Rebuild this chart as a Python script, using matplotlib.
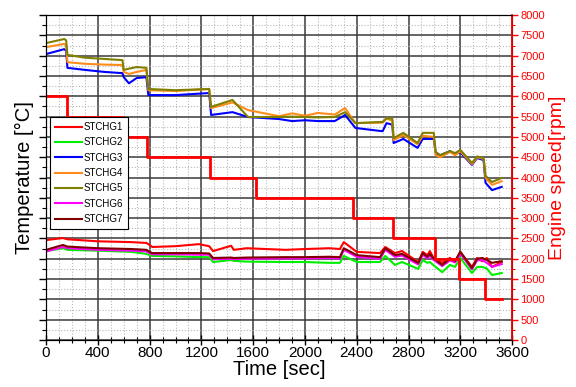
import numpy as np
import matplotlib
matplotlib.use("Agg")
import matplotlib.pyplot as plt
from matplotlib.ticker import MultipleLocator, NullFormatter

plt.rcParams['font.family'] = ['Liberation Sans', 'DejaVu Sans']

# engine speed steps [rpm]
speed_t = [0, 162, 595, 780, 1267, 1622, 2372, 2681, 3005, 3190, 3391, 3523]
speed = [6000, 5500, 5000, 4500, 4000, 3500, 3000, 2500, 2000, 1500, 1000, 1000]

# high temperature group (STCHG3, 4, 5)
t_hi = [0, 140, 155, 165, 300, 450, 590, 600, 640, 700, 775, 790, 1000, 1260, 1275,
        1440, 1560, 1800, 1900, 2000, 2100, 2230, 2310, 2390, 2600, 2630, 2675, 2685,
        2760, 2870, 2910, 2995, 3010, 3045, 3120, 3160, 3200, 3290, 3330, 3380, 3395,
        3445, 3520]
stchg3 = [704, 716, 712, 670, 665, 660, 657, 647, 632, 645, 647, 603, 603, 608, 554,
          561, 549, 544, 539, 541, 539, 539, 554, 522, 514, 534, 530, 485,
          495, 473, 495, 495, 460, 455, 465, 458, 462, 431, 448, 443, 387,
          369, 377]
stchg4 = [721, 729, 725, 684, 680, 678, 677, 660, 655, 660, 665, 615, 613, 618, 571,
          585, 566, 551, 558, 552, 559, 555, 571, 534, 535, 545, 540, 492,
          505, 482, 503, 500, 455, 450, 463, 455, 465, 433, 450, 446, 399,
          382, 391]
stchg5 = [731, 741, 738, 702, 695, 692, 689, 665, 668, 672, 670, 618, 615, 618, 574,
          591, 549, 549, 550, 549, 548, 549, 561, 534, 537, 546, 545, 497,
          510, 485, 510, 510, 463, 455, 465, 460, 468, 436, 452, 448, 404,
          389, 399]

# low temperature group (STCHG1, 2, 6, 7)
t_lo = [0, 130, 165, 400, 660, 775, 800, 820, 1000, 1180, 1260, 1290, 1430, 1450,
        1550, 1850, 2000, 2190, 2270, 2300, 2400, 2580, 2620, 2695, 2750, 2875, 2910,
        2945, 2965, 2990, 3060, 3120, 3160, 3200, 3290, 3330, 3370, 3405, 3445, 3520]
stchg1 = [246, 251, 248, 243, 241, 239, 234, 229, 231, 236, 231, 219, 232, 222,
          226, 222, 224, 226, 224, 241, 217, 214, 229, 214, 219, 192, 217,
          209, 219, 204, 190, 202, 192, 217, 180, 202, 194, 202, 180, 192]
stchg7 = [222, 234, 230, 226, 224, 222, 217, 214, 214, 214, 213, 202, 203, 202,
          203, 204, 204, 205, 204, 226, 209, 204, 226, 209, 212, 190, 214,
          205, 212, 202, 185, 200, 195, 217, 177, 200, 202, 197, 190, 194]
stchg6 = [218, 229, 226, 222, 220, 218, 214, 211, 211, 210, 210, 199, 200, 199,
          200, 201, 201, 202, 200, 222, 205, 200, 222, 205, 208, 186, 210,
          201, 208, 198, 182, 196, 191, 213, 174, 196, 197, 190, 180, 187]
stchg2 = [219, 226, 222, 220, 217, 212, 209, 207, 206, 204, 204, 192, 197, 195,
          193, 192, 192, 190, 190, 207, 192, 192, 207, 185, 192, 175, 197,
          190, 192, 185, 167, 185, 180, 202, 165, 180, 180, 176, 160, 165]

fig = plt.figure(figsize=(5.76, 3.87), dpi=100)
ax = fig.add_axes([0.080, 0.1214, 0.809, 0.8397])
ax2 = ax.twinx()

# grid on the temperature axis
ax.set_axisbelow(True)
ax.grid(which='minor', color='#b8b8b8', linestyle=':', linewidth=0.8)
ax.grid(which='major', color='#3a3a3a', linestyle='-', linewidth=1.1)

lw = 1.5
l1, = ax.plot(t_lo, stchg1, color='#ff0000', lw=lw, label='STCHG1')
l2, = ax.plot(t_lo, stchg2, color='#00ee00', lw=lw, label='STCHG2')
l3, = ax.plot(t_hi, stchg3, color='#0000ff', lw=lw, label='STCHG3')
l4, = ax.plot(t_hi, stchg4, color='#ff8c1a', lw=lw, label='STCHG4')
l5, = ax.plot(t_hi, stchg5, color='#808000', lw=lw, label='STCHG5')
l6, = ax.plot(t_lo, stchg6, color='#ff00ff', lw=lw, label='STCHG6')
l7, = ax.plot(t_lo, stchg7, color='#800000', lw=lw, label='STCHG7')

ax2.plot(speed_t, speed, color='#ff0000', lw=2.0, drawstyle='steps-post')

ax.set_xlim(0, 3600)
ax.set_ylim(0, 800)
ax2.set_ylim(0, 8000)

ax.xaxis.set_major_locator(MultipleLocator(400))
ax.xaxis.set_minor_locator(MultipleLocator(100))
ax.yaxis.set_major_locator(MultipleLocator(50))
ax.yaxis.set_minor_locator(MultipleLocator(25))
ax.yaxis.set_major_formatter(NullFormatter())
ax.tick_params(axis='x', which='major', direction='inout', length=7, width=1, labelsize=11, pad=1)
ax.tick_params(axis='x', which='minor', direction='inout', length=4, width=0.8)
ax.tick_params(axis='y', which='major', direction='out', length=5, width=1, right=False)
ax.tick_params(axis='y', which='minor', direction='out', length=3, width=0.8, right=False)

ax2.yaxis.set_major_locator(MultipleLocator(500))
ax2.yaxis.set_minor_locator(MultipleLocator(250))
ax2.tick_params(axis='y', which='major', direction='out', length=4, width=1,
                colors='#ff0000', labelsize=8, pad=2)
ax2.tick_params(axis='y', which='minor', direction='out', length=2.5, width=0.8, colors='#ff0000')
ax2.spines['right'].set_color('#ff0000')
ax2.spines['right'].set_linewidth(1.2)

ax.set_xlabel('Time [sec]', fontsize=14.5, labelpad=0)
ax.set_ylabel('Temperature [°C]', fontsize=14.5, labelpad=0)
ax2.set_ylabel('Engine speed[rpm]', fontsize=14, color='#ff0000', labelpad=3)

leg = ax2.legend(handles=[l1, l2, l3, l4, l5, l6, l7], loc='upper left',
                 bbox_to_anchor=(0.009, 0.686), borderaxespad=0, fontsize=7,
                 handlelength=2.8, handletextpad=0.1, labelspacing=0.55,
                 fancybox=False, framealpha=1, edgecolor='black', borderpad=0.5)
leg.get_frame().set_linewidth(0.8)
leg.set_zorder(10)

fig.savefig('out.png', dpi=100)
